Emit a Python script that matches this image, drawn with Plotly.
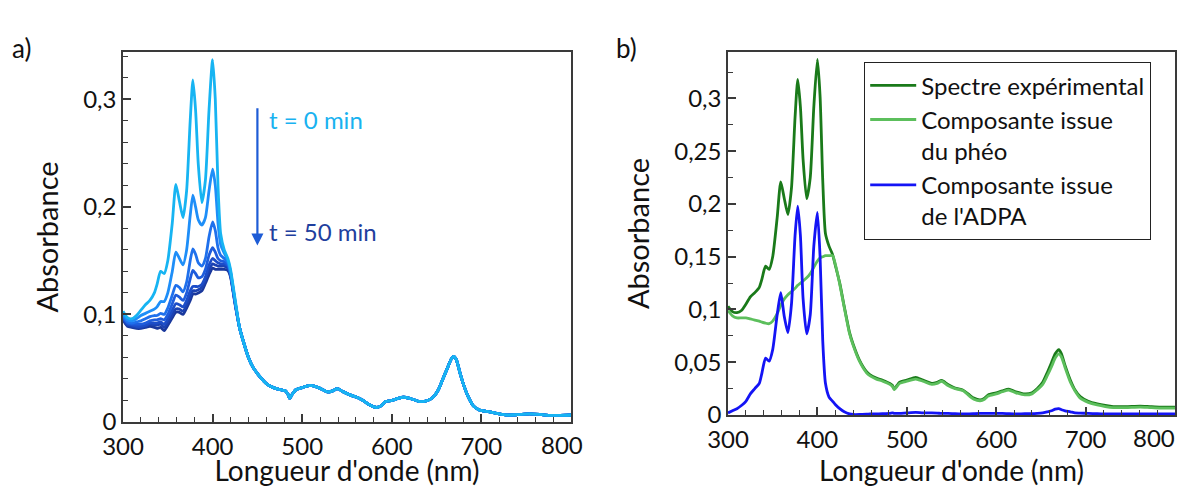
import plotly.graph_objects as go

# ---------------- Panel a data ----------------
wl_head = [300, 305, 310, 315, 320, 325, 330, 335, 338, 342, 346, 350, 355, 359, 363, 367,
           371, 375, 378, 381, 384, 388, 392, 396, 400, 403, 406, 409, 413, 417, 420, 425]

abs_t0 = [0.103, 0.097, 0.096, 0.099, 0.104, 0.109, 0.113, 0.120, 0.128, 0.140, 0.138, 0.150, 0.185, 0.221, 0.205, 0.190,
          0.215, 0.280, 0.318, 0.290, 0.240, 0.204, 0.225, 0.290, 0.337, 0.300, 0.220, 0.175, 0.160, 0.152, 0.142, 0.115]
abs_t1 = [0.100, 0.095, 0.094, 0.096, 0.099, 0.101, 0.103, 0.105, 0.107, 0.112, 0.112, 0.120, 0.140, 0.158, 0.152, 0.146,
          0.160, 0.192, 0.211, 0.200, 0.188, 0.183, 0.190, 0.215, 0.235, 0.220, 0.185, 0.165, 0.157, 0.150, 0.140, 0.113]
abs_t2 = [0.099, 0.093, 0.092, 0.093, 0.094, 0.096, 0.098, 0.099, 0.099, 0.101, 0.100, 0.106, 0.118, 0.127, 0.125, 0.121,
          0.130, 0.150, 0.161, 0.156, 0.148, 0.145, 0.152, 0.172, 0.186, 0.178, 0.162, 0.155, 0.152, 0.148, 0.139, 0.112]
abs_t3 = [0.098, 0.092, 0.091, 0.091, 0.091, 0.092, 0.094, 0.095, 0.095, 0.096, 0.095, 0.100, 0.110, 0.118, 0.116, 0.113,
          0.120, 0.133, 0.141, 0.138, 0.134, 0.135, 0.142, 0.155, 0.162, 0.158, 0.152, 0.150, 0.149, 0.146, 0.138, 0.112]
abs_t4 = [0.097, 0.091, 0.090, 0.089, 0.089, 0.090, 0.092, 0.092, 0.092, 0.093, 0.091, 0.096, 0.104, 0.110, 0.109, 0.107,
          0.113, 0.122, 0.126, 0.126, 0.126, 0.128, 0.135, 0.146, 0.152, 0.150, 0.148, 0.147, 0.147, 0.145, 0.137, 0.111]
abs_t5 = [0.096, 0.090, 0.089, 0.088, 0.088, 0.089, 0.091, 0.090, 0.090, 0.091, 0.088, 0.093, 0.100, 0.105, 0.105, 0.103,
          0.109, 0.117, 0.122, 0.122, 0.123, 0.125, 0.132, 0.141, 0.147, 0.146, 0.145, 0.145, 0.145, 0.143, 0.136, 0.111]
abs_t6 = [0.095, 0.089, 0.088, 0.087, 0.087, 0.088, 0.089, 0.088, 0.087, 0.088, 0.085, 0.090, 0.097, 0.102, 0.102, 0.100,
          0.106, 0.113, 0.119, 0.119, 0.120, 0.122, 0.129, 0.137, 0.143, 0.142, 0.142, 0.142, 0.142, 0.141, 0.135, 0.110]

wl_tail = [430, 435, 440, 445, 450, 455, 461, 468, 476, 481, 484, 486, 489, 493, 500, 509, 518, 528, 534, 539,
           546, 554, 561, 568, 575, 583, 588, 593, 600, 607, 613, 620, 631, 640, 646, 652, 657, 662, 666, 669,
           672, 676, 680, 685, 691, 698, 709, 720, 728, 740, 754, 765, 776, 788, 800]
abs_tail = [0.088, 0.073, 0.060, 0.051, 0.045, 0.040, 0.035, 0.032, 0.030, 0.029, 0.026, 0.022, 0.026, 0.030, 0.032, 0.034, 0.032, 0.028, 0.029, 0.031,
            0.028, 0.025, 0.023, 0.020, 0.016, 0.0135, 0.015, 0.019, 0.020, 0.022, 0.023, 0.022, 0.019, 0.020, 0.023, 0.030, 0.040, 0.050, 0.058, 0.061,
            0.058, 0.046, 0.035, 0.024, 0.015, 0.011, 0.0095, 0.0075, 0.0065, 0.0068, 0.0075, 0.007, 0.0062, 0.0062, 0.0065]

series_a = [abs_t0, abs_t1, abs_t2, abs_t3, abs_t4, abs_t5, abs_t6]
colors_a = ["#17B4F2", "#1E8EF8", "#1F70EC", "#1E5CDC", "#1C4DC8", "#1B42B2", "#1A389C"]

# ---------------- Panel b data ----------------
wl_b = [300, 305, 310, 315, 320, 325, 330, 335, 338, 342, 346, 350, 355, 359, 363, 367, 371, 375, 378, 381,
        384, 388, 392, 396, 400, 403, 406, 409, 413, 417, 420, 425, 430, 436, 440, 447, 455, 459, 466, 473,
        481, 484, 486, 489, 492, 500, 510, 518, 528, 534, 539, 546, 554, 563, 570, 575, 582, 587, 591, 600,
        607, 614, 622, 632, 640, 646, 652, 657, 662, 666, 670, 673, 677, 683, 688, 694, 703, 713, 722, 731,
        745, 761, 772, 784, 800]
abs_exp = [0.103, 0.098, 0.097, 0.099, 0.105, 0.112, 0.116, 0.121, 0.129, 0.141, 0.138, 0.150, 0.187, 0.221, 0.205, 0.190, 0.215, 0.282, 0.318, 0.292,
           0.242, 0.205, 0.225, 0.292, 0.337, 0.302, 0.222, 0.172, 0.160, 0.152, 0.142, 0.125, 0.103, 0.078, 0.067, 0.052, 0.041, 0.038, 0.035, 0.033,
           0.030, 0.028, 0.0245, 0.028, 0.031, 0.033, 0.0356, 0.033, 0.030, 0.031, 0.0327, 0.029, 0.0255, 0.0235, 0.019, 0.016, 0.0143, 0.016, 0.019, 0.021,
           0.023, 0.0245, 0.022, 0.020, 0.021, 0.025, 0.031, 0.040, 0.050, 0.058, 0.062, 0.058, 0.047, 0.033, 0.024, 0.0175, 0.013, 0.0105, 0.009, 0.008,
           0.008, 0.0085, 0.008, 0.0075, 0.0075]
abs_pheo = [0.099, 0.094, 0.092, 0.092, 0.092, 0.091, 0.090, 0.089, 0.088, 0.087, 0.0865, 0.089, 0.096, 0.104, 0.110, 0.114, 0.117, 0.120, 0.123, 0.125,
            0.127, 0.130, 0.134, 0.140, 0.146, 0.149, 0.150, 0.151, 0.151, 0.151, 0.143, 0.124, 0.102, 0.077, 0.066, 0.051, 0.040, 0.037, 0.034, 0.032,
            0.029, 0.027, 0.024, 0.027, 0.030, 0.032, 0.034, 0.032, 0.029, 0.030, 0.032, 0.028, 0.025, 0.023, 0.018, 0.015, 0.0135, 0.015, 0.018, 0.020,
            0.022, 0.0235, 0.021, 0.019, 0.020, 0.024, 0.029, 0.037, 0.046, 0.054, 0.058, 0.055, 0.045, 0.031, 0.023, 0.016, 0.012, 0.0095, 0.008, 0.007,
            0.007, 0.0075, 0.007, 0.0065, 0.0065]
abs_adpa = [0.002, 0.004, 0.006, 0.009, 0.013, 0.020, 0.025, 0.030, 0.040, 0.054, 0.051, 0.062, 0.095, 0.116, 0.093, 0.078, 0.105, 0.170, 0.198, 0.170,
            0.110, 0.077, 0.095, 0.160, 0.192, 0.150, 0.070, 0.030, 0.017, 0.013, 0.010, 0.006, 0.003, 0.001, 0.0005, 0.0005, 0.0008, 0.001, 0.001, 0.0012,
            0.0015, 0.002, 0.0015, 0.0015, 0.0015, 0.002, 0.0025, 0.002, 0.002, 0.0018, 0.0015, 0.0015, 0.0012, 0.001, 0.001, 0.0012, 0.0015, 0.0015, 0.0015, 0.0015,
            0.0015, 0.0012, 0.001, 0.0012, 0.0012, 0.0015, 0.002, 0.003, 0.004, 0.0055, 0.006, 0.005, 0.004, 0.003, 0.002, 0.0018, 0.0015, 0.0012, 0.001, 0.001,
            0.001, 0.001, 0.001, 0.001, 0.001]

names_b = ["Spectre expérimental", "Composante issue<br>du phéo", "Composante issue<br>de l'ADPA"]
colors_b = ["#1A7A1A", "#5CBF5C", "#1414F5"]

# ---------------- Axis tick labels ----------------
x_tickvals = [300, 400, 500, 600, 700, 800]
x_ticktext = ["300", "400", "500", "600", "700", ""]   # last label drawn below, nudged inside the frame
x_last_val, x_last_text = 800, "800"
ya_tickvals = [0, 0.1, 0.2, 0.3]
ya_ticktext = ["0", "0,1", "0,2", "0,3"]
yb_tickvals = [0, 0.05, 0.1, 0.15, 0.2, 0.25, 0.3]
yb_ticktext = ["0", "0,05", "0,1", "0,15", "0,2", "0,25", "0,3"]

FONT = "Lato"
OFF = 8                      # the page body adds an 8px margin on every side
W, H = 1186 - 2 * OFF, 495 - 2 * OFF


def fx(px):
    return (px - OFF) / W


def fy(py):
    return 1 - (py - OFF) / H


fig = go.Figure()

# panel a: draw darkest first so light cyan ends on top
for vals, col in reversed(list(zip(series_a, colors_a))):
    fig.add_trace(go.Scatter(x=wl_head + wl_tail, y=vals + abs_tail, mode="lines",
                             line=dict(color=col, width=2.8, shape="spline", smoothing=0.6),
                             xaxis="x", yaxis="y", showlegend=False, hoverinfo="skip"))

for vals, name, col in zip([abs_exp, abs_pheo, abs_adpa], names_b, colors_b):
    fig.add_trace(go.Scatter(x=wl_b, y=vals, mode="lines", name=name,
                             line=dict(color=col, width=2.8, shape="spline", smoothing=0.6),
                             xaxis="x2", yaxis="y2", showlegend=True))

TICKFONT = dict(family=FONT, size=24, color="#111")
axis_common = dict(showline=True, linecolor="#3a3a3a", linewidth=1.5, mirror=True,
                   ticks="inside", ticklen=8, tickwidth=1.5, tickcolor="#3a3a3a",
                   showgrid=False, zeroline=False, automargin=False,
                   tickfont=TICKFONT)

xa = dict(axis_common, range=[300, 800], tickmode="array", tickvals=x_tickvals, ticktext=x_ticktext,
          minor=dict(ticks="inside", ticklen=5, tickwidth=1.2, tickcolor="#3a3a3a", tickmode="linear", tick0=300, dtick=20),
          ticklabelstandoff=2,
          title=dict(text="Longueur d'onde (nm)", font=dict(family=FONT, size=28, color="#111"), standoff=9))

ya_title = dict(text="Absorbance", font=dict(family=FONT, size=29, color="#111"), standoff=16)

fig.update_layout(
    width=W, height=H,
    margin=dict(l=0, r=0, t=0, b=0, autoexpand=False),
    paper_bgcolor="white", plot_bgcolor="white",
    font=dict(family=FONT, color="#111"),
    xaxis=dict(xa, domain=[fx(123), fx(571)], anchor="y"),
    xaxis2=dict(xa, domain=[fx(728), fx(1175)], anchor="y2"),
    yaxis=dict(axis_common, domain=[fy(422), fy(52)], anchor="x", range=[0, 0.344],
               tickmode="array", tickvals=ya_tickvals, ticktext=ya_ticktext,
               minor=dict(ticks="inside", ticklen=5, tickwidth=1.2, tickcolor="#3a3a3a", tickmode="linear", tick0=0, dtick=0.02),
               title=ya_title),
    yaxis2=dict(axis_common, domain=[fy(415), fy(52)], anchor="x2", range=[0, 0.344],
                tickmode="array", tickvals=yb_tickvals, ticktext=yb_ticktext,
                minor=dict(ticks="inside", ticklen=5, tickwidth=1.2, tickcolor="#3a3a3a", tickmode="linear", tick0=0, dtick=0.025),
                title=ya_title),
    legend=dict(x=fx(864), y=fy(62), xanchor="left", yanchor="top",
                bgcolor="white", bordercolor="#222", borderwidth=1.2,
                font=dict(family=FONT, size=24, color="#111"),
                valign="top", itemwidth=46, tracegroupgap=0),
    showlegend=True,
)

# last x tick label of each panel, shifted left to stay inside the frame (as in the original)
for xr, yr, shift in (("x", "y", -9), ("x2", "y2", -21)):
    fig.add_annotation(x=x_last_val, y=0, xref=xr, yref=yr, text=x_last_text, showarrow=False,
                       xanchor="center", yanchor="middle", xshift=shift, yshift=-22, font=TICKFONT)

# arrow and time labels in panel a
fig.add_annotation(x=450, y=0.164, ax=450, ay=0.293, xref="x", yref="y", axref="x", ayref="y",
                   showarrow=True, arrowhead=2, arrowsize=1.1, arrowwidth=2.2, arrowcolor="#1E5CD6", text="")
fig.add_annotation(x=461, y=0.281, xref="x", yref="y", text="t = 0 min", showarrow=False,
                   xanchor="left", font=dict(family=FONT, size=24, color="#19B2F0"))
fig.add_annotation(x=461, y=0.177, xref="x", yref="y", text="t = 50 min", showarrow=False,
                   xanchor="left", font=dict(family=FONT, size=24, color="#1F3F9E"))

# panel labels
fig.add_annotation(x=fx(10), y=fy(30), xref="paper", yref="paper", text="a)", showarrow=False,
                   xanchor="left", font=dict(family=FONT, size=26, color="#111"))
fig.add_annotation(x=fx(614), y=fy(30), xref="paper", yref="paper", text="b)", showarrow=False,
                   xanchor="left", font=dict(family=FONT, size=26, color="#111"))

fig.write_html("out.html")
